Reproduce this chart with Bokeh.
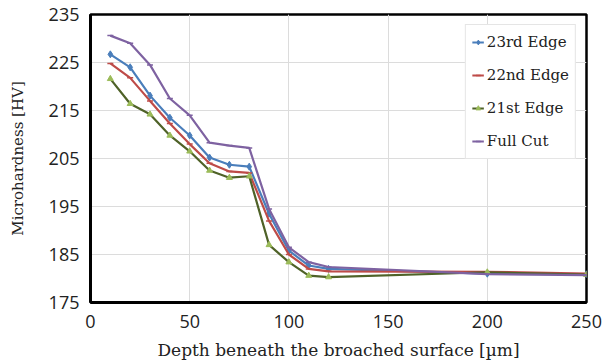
from bokeh.plotting import figure
from bokeh.models import Range1d, FixedTicker, Legend, LegendItem
from bokeh.embed import file_html
from bokeh.resources import INLINE

depth = [10, 20, 30, 40, 50, 60, 70, 80, 90, 100, 110, 120, 200, 250]
edge23 = [226.7, 224.0, 218.1, 213.5, 209.8, 205.2, 203.7, 203.3, 193.5, 185.8, 182.7, 182.0, 181.0, 180.9]
edge22 = [224.8, 221.8, 217.0, 212.3, 208.0, 204.0, 202.3, 202.0, 192.0, 185.0, 182.0, 181.5, 181.4, 181.0]
edge21 = [221.6, 216.4, 214.2, 209.8, 206.5, 202.5, 201.0, 201.3, 187.0, 183.4, 180.6, 180.3, 181.3, 180.8]
fullcut = [230.6, 229.0, 224.5, 217.5, 214.0, 208.3, 207.7, 207.2, 194.5, 186.5, 183.4, 182.4, 180.9, 180.7]

x_ticks = [0, 50, 100, 150, 200, 250]
y_ticks = [175, 185, 195, 205, 215, 225, 235]

p = figure(width=610, height=362, output_backend="svg", toolbar_location=None,
           x_range=Range1d(0, 250), y_range=Range1d(175, 235),
           min_border_left=90, min_border_top=14, min_border_right=24, min_border_bottom=60)

p.xgrid.ticker = FixedTicker(ticks=x_ticks)
p.ygrid.ticker = FixedTicker(ticks=y_ticks)
p.xaxis.ticker = FixedTicker(ticks=x_ticks)
p.yaxis.ticker = FixedTicker(ticks=y_ticks)
p.grid.grid_line_color = "#dcdcdc"
p.grid.grid_line_width = 1

p.outline_line_color = "black"
p.outline_line_width = 2.5
for ax in (p.xaxis, p.yaxis):
    ax.axis_line_color = "black"
    ax.axis_line_width = 3
    ax.major_tick_line_color = None
    ax.minor_tick_line_color = None
    ax.major_label_text_font = "Open Sans"
    ax.major_label_text_font_size = "18px"
    ax.major_label_text_color = "#222222"
    ax.axis_label_text_font = "DejaVu Serif"
    ax.axis_label_text_font_style = "normal"
    ax.axis_label_text_color = "#222222"

p.xaxis.axis_label_text_font_size = "17px"
p.yaxis.axis_label_text_font_size = "15px"
p.xaxis.major_label_standoff = 6
p.yaxis.major_label_standoff = 5
p.xaxis.axis_label = "Depth beneath the broached surface [µm]"
p.yaxis.axis_label = "Microhardness [HV]"
p.xaxis.axis_label_standoff = 9
p.yaxis.axis_label_standoff = 19

c23 = "#4a7ebb"
c22 = "#be4b48"
c21 = "#4f6228"
c21m = "#9bbb59"
cfc = "#7e62a1"

l23 = p.line(depth, edge23, line_color=c23, line_width=2.2)
m23 = p.scatter(depth, edge23, marker="diamond", size=7, fill_color=c23, line_color=c23)
l22 = p.line(depth, edge22, line_color=c22, line_width=2.2)
m22 = p.scatter(depth, edge22, marker="dash", size=6, line_color=c22, line_width=1.5)
l21 = p.line(depth, edge21, line_color=c21, line_width=2.2)
m21 = p.scatter(depth, edge21, marker="triangle", size=6, fill_color=c21m, line_color=c21m)
lfc = p.line(depth, fullcut, line_color=cfc, line_width=2.2)
mfc = p.scatter(depth, fullcut, marker="dash", size=6, line_color=cfc, line_width=1.5)

legend = Legend(items=[
    LegendItem(label="23rd Edge", renderers=[l23, m23]),
    LegendItem(label="22nd Edge", renderers=[l22, m22]),
    LegendItem(label="21st Edge", renderers=[l21, m21]),
    LegendItem(label="Full Cut", renderers=[lfc, mfc]),
], location="top_right")
legend.label_text_font = "DejaVu Serif"
legend.label_text_font_size = "15px"
legend.label_text_color = "#222222"
legend.glyph_width = 12
legend.glyph_height = 22
legend.label_height = 22
legend.label_standoff = 3
legend.spacing = 11
legend.padding = 6
legend.margin = 10
legend.border_line_color = "#cccccc"
legend.border_line_width = 1
legend.background_fill_color = "white"
legend.background_fill_alpha = 1
p.add_layout(legend)

open("out.html", "w").write(file_html(p, INLINE))
